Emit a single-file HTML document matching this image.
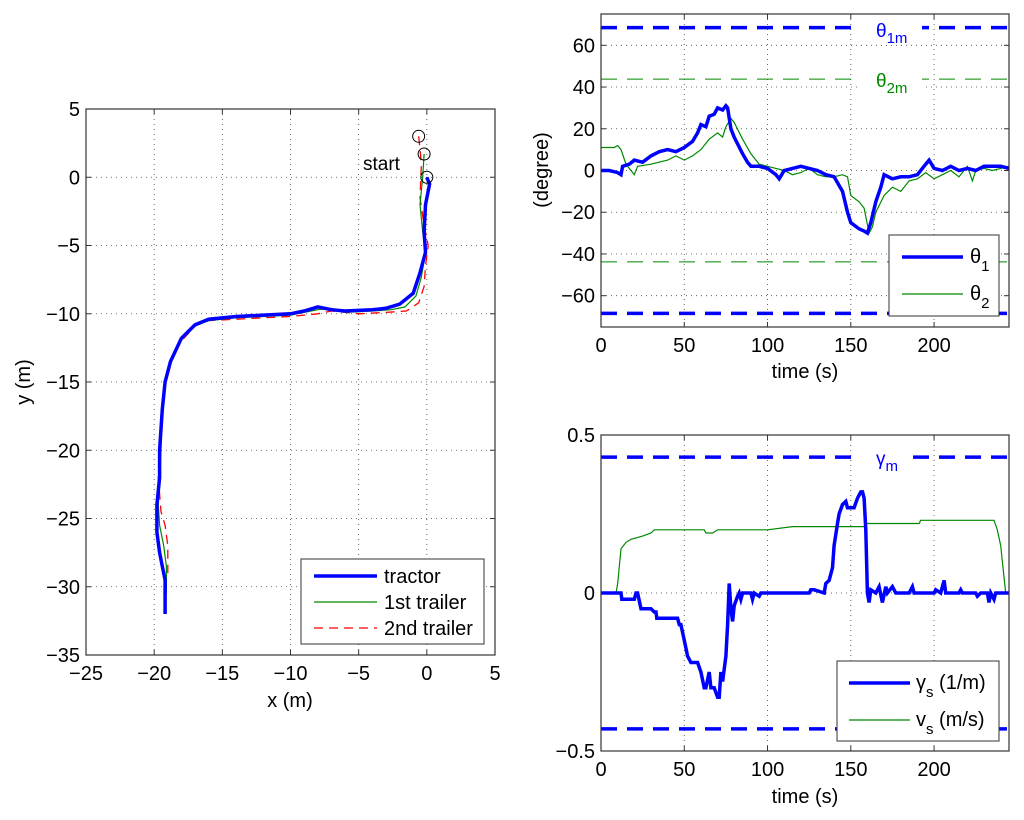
<!DOCTYPE html>
<html><head><meta charset="utf-8"><style>
body{margin:0;background:#fff;}
svg{display:block;font-family:"Liberation Sans",sans-serif;}
</style></head><body>
<svg id="s" width="1024" height="820" xmlns="http://www.w3.org/2000/svg"></svg>
<script>
// ---- data: trajectory plot ----
const tractorX=[0,0.2,-0.1,-0.2,-0.1,-0.5,-1,-2,-3,-4,-6,-7,-8,-9,-10,-12,-14,-16,-17,-18,-18.8,-19.2,-19.4,-19.6,-19.6,-19.8,-19.8,-19.6,-19.4,-19.2,-19.2];
const tractorY=[0,-0.5,-2,-4,-5.5,-7,-8.5,-9.3,-9.6,-9.7,-9.8,-9.7,-9.5,-9.8,-10,-10.1,-10.2,-10.4,-10.8,-11.8,-13.5,-15,-17,-20,-22,-24,-26,-27.5,-28.5,-29.5,-32];
const trailer1X=[-0.2,-0.3,-0.5,-0.3,-0.1,-0.4,-0.8,-1.6,-2.6,-4,-6,-7,-8,-9,-10,-12,-14,-16,-17,-18,-18.8,-19.2,-19.4,-19.5,-19.6,-19.7,-19.6,-19.3,-19.1,-19.1];
const trailer1Y=[1.7,0,-2,-4,-5.5,-7.3,-8.7,-9.5,-9.7,-9.8,-9.9,-9.6,-9.7,-9.9,-10.1,-10.2,-10.3,-10.5,-10.9,-11.9,-13.5,-15,-17,-20,-22,-24,-25.5,-27,-28.5,-30.5];
const trailer2X=[-0.6,-0.4,-0.5,-0.2,0.1,-0.1,-0.2,-0.6,-1.5,-3,-5,-7,-8,-9,-10,-12,-14,-16,-17,-18,-18.8,-19.2,-19.4,-19.5,-19.7,-19.5,-19.2,-19.0,-19.0];
const trailer2Y=[3,1,-1.5,-3.5,-5,-6.5,-8,-9.2,-9.8,-9.9,-10,-9.8,-10,-10.1,-10.2,-10.3,-10.4,-10.5,-10.9,-12,-13.5,-15,-17,-19,-22,-24.5,-25.5,-27,-29];
const leftXTicks=[-25,-20,-15,-10,-5,0,5];
const leftYTicks=[5,0,-5,-10,-15,-20,-25,-30,-35];
// ---- data: angle plot ----
const t1=[0,5,10,12,13,17,20,25,30,35,40,45,50,55,58,60,63,65,68,70,73,75,76,78,80,85,88,90,95,100,105,107,110,115,120,125,130,135,140,145,148,150,155,158,160,162,165,168,170,175,180,185,190,195,197,200,205,210,215,220,225,230,235,240,245];
const theta1=[0,0,-1,-2,2,3,5,4,7,9,10,9,11,14,18,22,21,26,27,30,29,31,30,20,16,8,4,2,2,1,-2,-4,0,1,2,1,0,-2,-3,-10,-20,-25,-28,-29,-30,-25,-15,-8,-2,-4,-3,-3,-2,3,5,1,0,2,0,1,0,2,2,2,1];
const t2=[0,8,10,12,15,18,20,22,30,40,45,50,55,60,65,70,73,75,78,80,85,90,95,100,105,110,115,120,125,130,135,140,145,148,150,155,158,161,163,165,170,175,180,185,190,195,200,205,210,215,220,223,225,230,235,240,245];
const theta2=[11,11,12,10,3,0,-2,2,3,5,7,5,7,10,15,18,16,21,25,23,15,8,3,2,1,0,-2,-1,1,-2,-3,-3,-2,-3,-12,-15,-18,-30,-27,-20,-12,-8,-10,-5,-4,-1,-4,-2,0,-3,2,-5,0,1,0,1,2];
const angXTicks=[0,50,100,150,200];
const angYTicks=[60,40,20,0,-20,-40,-60];
const theta1Max=[68.5], theta2Max=[43.8];
// ---- data: steering/speed plot ----
const tg=[0,12,12.5,20,21,22,24,30,32,33,33.5,46,47,48,50,52,54,58,60,62,63,65,66,68,70,71,72,73,75,76,77,78,79,80,82,83,84,85,90,91,92,95,96,125,126,128,134,135,137,139,140,142,143,145,147,148,152,154,156,157,158,159,160,161,162,165,167,169,171,172,175,177,185,187,188,200,201,204,206,207,210,215,216,217,225,226,228,232,233,234,236,237,245];
const gammaS=[0,0,-0.02,-0.02,0,0,-0.05,-0.05,-0.06,-0.06,-0.08,-0.08,-0.1,-0.1,-0.15,-0.2,-0.22,-0.22,-0.25,-0.3,-0.3,-0.25,-0.3,-0.3,-0.33,-0.33,-0.25,-0.28,-0.2,-0.1,0.03,-0.05,-0.09,-0.04,-0.01,0,-0.02,0,0,-0.02,0,-0.01,0,0,0.01,0.01,0,0.03,0.04,0.08,0.15,0.22,0.25,0.28,0.29,0.27,0.27,0.3,0.32,0.32,0.3,0.2,0,-0.03,0.01,0,0.02,-0.03,0.02,0,0.02,0,0,0.02,0,0,0.01,0,0.04,0,0,0,0.01,0,0,-0.01,0,0,-0.03,0,-0.02,0,0];
const tv=[0,9,10,12,15,18,25,30,32,62,63,67,70,100,115,150,158,159,191,192,236,238,240,242,243];
const vS=[0,0,0.03,0.14,0.16,0.17,0.18,0.19,0.2,0.2,0.19,0.19,0.2,0.2,0.21,0.21,0.21,0.22,0.22,0.23,0.23,0.2,0.15,0.05,0];
const gXTicks=[0,50,100,150,200];
const gYTicks=[0.5,0,-0.5];
const gammaMax=[0.43];

const NS="http://www.w3.org/2000/svg", S=document.getElementById('s');
const FS=20;
function mk(tag,a,parent,txt){const e=document.createElementNS(NS,tag);for(const k in a)e.setAttribute(k,a[k]);if(txt!==undefined)e.textContent=txt;(parent||S).appendChild(e);return e;}
function lin(d0,d1,r0,r1){return v=>r0+(v-d0)/(d1-d0)*(r1-r0);}
function path(xs,ys,fx,fy){return xs.map((x,i)=>(i?'L':'M')+fx(x).toFixed(1)+' '+fy(ys[i]).toFixed(1)).join(' ');}

function axes(g,L,R,T,B,fx,fy,xt,yt,ygrid){
  const grid={stroke:'#444','stroke-width':0.8,'stroke-dasharray':'1 4'};
  xt.forEach(v=>{const x=fx(v);
    if(x>L+1&&x<R-1){const gl=mk('line',Object.assign({x1:x,x2:x,y1:T,y2:B},grid),g);
    }
    mk('line',{x1:x,x2:x,y1:B,y2:B-5,stroke:'#333'},g);mk('line',{x1:x,x2:x,y1:T,y2:T+5,stroke:'#333'},g);
    const t=mk('text',{x:x,y:B+25,'text-anchor':'middle','font-size':FS},g,String(v).replace('-','\u2212'));
    });
  yt.forEach(v=>{const y=fy(v);
    if(ygrid(v)&&y>T+1&&y<B-1){const gl=mk('line',Object.assign({x1:L,x2:R,y1:y,y2:y},grid),g);
    }
    mk('line',{x1:L,x2:L+5,y1:y,y2:y,stroke:'#333'},g);mk('line',{x1:R,x2:R-5,y1:y,y2:y,stroke:'#333'},g);
    const t=mk('text',{x:L-6,y:y+7,'text-anchor':'end','font-size':FS},g,String(v).replace('-','\u2212'));
    });
}
function frame(g,L,R,T,B){const r=mk('rect',{x:L,y:T,width:R-L,height:B-T,fill:'none',stroke:'#333','stroke-width':1.2},g);
  }

// ---- left plot ----
(function(){
  const L=86,R=495,T=109,B=655;
  const g=mk('g',{});
  const fx=lin(-25,5,L,R), fy=lin(5,-35,T,B);
  axes(g,L,R,T,B,fx,fy,leftXTicks,leftYTicks,()=>true);
  let p=mk('path',{d:path(trailer2X,trailer2Y,fx,fy),fill:'none',stroke:'#f00','stroke-width':1.3,'stroke-dasharray':'9 6'},g);
  
  p=mk('path',{d:path(trailer1X,trailer1Y,fx,fy),fill:'none',stroke:'#080','stroke-width':1.2},g);
  
  p=mk('path',{d:path(tractorX,tractorY,fx,fy),fill:'none',stroke:'#00f','stroke-width':3.5},g);
  
  [[tractorX[0],tractorY[0]],[trailer1X[0],trailer1Y[0]],[trailer2X[0],trailer2Y[0]]].forEach(([x,y])=>{
    const c=mk('circle',{cx:fx(x),cy:fy(y),r:6,fill:'none',stroke:'#000','stroke-width':1},g);
    });
  let t=mk('text',{x:363,y:170,'font-size':19},g,'start');
  frame(g,L,R,T,B);
  t=mk('text',{x:290,y:707,'text-anchor':'middle','font-size':FS},g,'x (m)');
  t=mk('text',{x:30,y:382,'text-anchor':'middle','font-size':FS,transform:'rotate(-90 30 382)'},g,'y (m)');
  const lg=mk('g',{},g);
  mk('rect',{x:301,y:559,width:183,height:85,fill:'#fff',stroke:'#333'},lg);
  const ent=[['tractor','#00f',3.5,''],['1st trailer','#080',1.2,''],['2nd trailer','#f00',1.3,'9 6']];
  ent.forEach((e,i)=>{const y=576+i*26;
    const le=mk('g',{},lg);
    mk('line',{x1:314,x2:377,y1:y,y2:y,stroke:e[1],'stroke-width':e[2],'stroke-dasharray':e[3]},le);
    mk('text',{x:384,y:y+7,'font-size':FS},le,e[0]);});
})();

// ---- top right ----
(function(){
  const L=601,R=1009,T=14,B=327;
  const g=mk('g',{});
  const fx=lin(0,245,L,R), fy=lin(75,-75,T,B);
  axes(g,L,R,T,B,fx,fy,angXTicks,angYTicks,()=>true);
  [theta1Max[0],-theta1Max[0]].forEach(v=>{const l=mk('line',{x1:L,x2:R,y1:fy(v),y2:fy(v),stroke:'#00f','stroke-width':3.5,'stroke-dasharray':'16 10'},g);
    });
  [theta2Max[0],-theta2Max[0]].forEach(v=>{const l=mk('line',{x1:L,x2:R,y1:fy(v),y2:fy(v),stroke:'#080','stroke-width':1,'stroke-dasharray':'16 10'},g);
    });
  mk('rect',{x:860,y:16,width:62,height:26,fill:'#fff'},g);
  mk('rect',{x:860,y:66,width:62,height:26,fill:'#fff'},g);
  let t=mk('text',{x:876,y:37,'font-size':19,fill:'#00f'},g);t.innerHTML='θ<tspan dy="6" font-size="15">1m</tspan>';
  
  t=mk('text',{x:876,y:87,'font-size':19,fill:'#080'},g);t.innerHTML='θ<tspan dy="6" font-size="15">2m</tspan>';
  
  let p=mk('path',{d:path(t2,theta2,fx,fy),fill:'none',stroke:'#080','stroke-width':1.2},g);
  
  p=mk('path',{d:path(t1,theta1,fx,fy),fill:'none',stroke:'#00f','stroke-width':3.5},g);
  
  frame(g,L,R,T,B);
  t=mk('text',{x:805,y:378,'text-anchor':'middle','font-size':FS},g,'time (s)');
  t=mk('text',{x:548,y:170,'text-anchor':'middle','font-size':FS,transform:'rotate(-90 548 170)'},g,'(degree)');
  const lg=mk('g',{},g);
  mk('rect',{x:889,y:235,width:110,height:81,fill:'#fff',stroke:'#333'},lg);
  [['1','#00f',3.5],['2','#080',1.2]].forEach((e,i)=>{const y=257+i*37;
    const le=mk('g',{},lg);
    mk('line',{x1:902,x2:963,y1:y,y2:y,stroke:e[1],'stroke-width':e[2]},le);
    const tt=mk('text',{x:970,y:y+6,'font-size':FS},le);tt.innerHTML='θ<tspan dy="8" font-size="15">'+e[0]+'</tspan>';});
})();

// ---- bottom right ----
(function(){
  const L=601,R=1009,T=435,B=751;
  const g=mk('g',{});
  const fx=lin(0,245,L,R), fy=lin(0.5,-0.5,T,B);
  axes(g,L,R,T,B,fx,fy,gXTicks,gYTicks,v=>v===0);
  [gammaMax[0],-gammaMax[0]].forEach(v=>{const l=mk('line',{x1:L,x2:R,y1:fy(v),y2:fy(v),stroke:'#00f','stroke-width':3.5,'stroke-dasharray':'16 10'},g);
    });
  mk('rect',{x:860,y:445,width:52,height:28,fill:'#fff'},g);
  let t=mk('text',{x:876,y:465,'font-size':19,fill:'#00f'},g);t.innerHTML='γ<tspan dy="6" font-size="15">m</tspan>';
  
  let p=mk('path',{d:path(tv,vS,fx,fy),fill:'none',stroke:'#080','stroke-width':1.2},g);
  
  p=mk('path',{d:path(tg,gammaS,fx,fy),fill:'none',stroke:'#00f','stroke-width':3.5},g);
  
  frame(g,L,R,T,B);
  t=mk('text',{x:805,y:803,'text-anchor':'middle','font-size':FS},g,'time (s)');
  const lg=mk('g',{},g);
  mk('rect',{x:837,y:661,width:162,height:80,fill:'#fff',stroke:'#333'},lg);
  [['γ','s',' (1/m)','#00f',3.5],['v','s',' (m/s)','#080',1.2]].forEach((e,i)=>{const y=683+i*37;
    const le=mk('g',{},lg);
    mk('line',{x1:849,x2:910,y1:y,y2:y,stroke:e[3],'stroke-width':e[4]},le);
    const tt=mk('text',{x:916,y:y+6,'font-size':FS},le);tt.innerHTML=e[0]+'<tspan dy="8" font-size="15">'+e[1]+'</tspan><tspan dy="-8">'+e[2]+'</tspan>';});
})();
</script>
</body></html>
